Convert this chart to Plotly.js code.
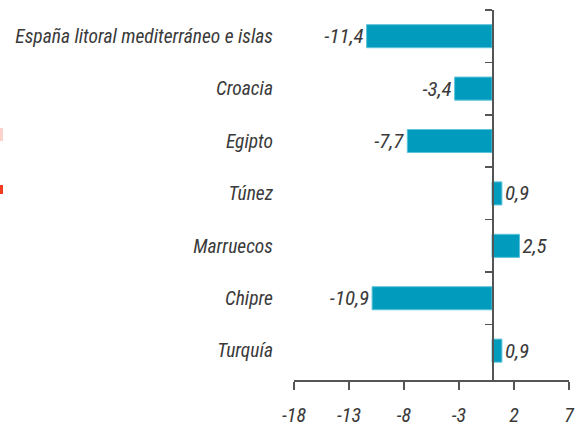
<!DOCTYPE html>
<html>
<head>
<meta charset="utf-8">
<script src="https://cdn.plot.ly/plotly-3.0.1.min.js"></script>
<style>html,body{margin:0;padding:0;background:#fff}#chart{width:585px;height:430px}</style>
</head>
<body>
<div id="chart"></div>
<script>
const categories = ["España litoral mediterráneo e islas", "Croacia", "Egipto", "Túnez", "Marruecos", "Chipre", "Turquía"];
const values = [-11.4, -3.4, -7.7, 0.9, 2.5, -10.9, 0.9];
const xTicks = [-18, -13, -8, -3, 2, 7];

const fmt = v => v.toFixed(1).replace('.', ',');
const fam = "'Liberation Sans Narrow', 'Roboto Condensed', 'DejaVu Sans Condensed', sans-serif";
const catFont = {family: fam, size: 19.5, color: '#3a3a3a', style: 'italic'};
const numFont = {family: fam, size: 21, color: '#3a3a3a', style: 'italic'};
const tickFont = {family: fam, size: 20, color: '#3a3a3a', style: 'italic'};
const W = 585, L = 294, R = 16;
const pw = W - L - R;

const traces = [
  {
    type: 'bar', orientation: 'h', x: values, y: categories,
    marker: {color: '#009bbd', line: {color: '#5cc3da', width: 1}},
    width: 0.44,
    text: values.map(fmt), textposition: 'outside', cliponaxis: false,
    constraintext: 'none',
    textfont: numFont, hoverinfo: 'skip'
  },
  {
    type: 'scatter', mode: 'none', x: categories.map(() => 0), y: categories,
    yaxis: 'y2', showlegend: false, hoverinfo: 'skip'
  }
];

const layout = {
  width: 585, height: 430,
  margin: {l: L, r: R, t: 10, b: 50},
  paper_bgcolor: '#fff', plot_bgcolor: '#fff',
  showlegend: false,
  font: catFont,
  xaxis: {
    range: [-18, 7], tickvals: xTicks, ticktext: xTicks.map(String),
    showgrid: false, zeroline: false,
    showline: true, linecolor: '#555', linewidth: 1.5,
    ticks: 'outside', ticklen: 8, tickcolor: '#555', tickwidth: 1.5,
    ticklabelstandoff: 8,
    tickfont: tickFont, fixedrange: true
  },
  yaxis: {
    type: 'category', range: [6.56, -0.5],
    showgrid: false, zeroline: false, showline: false, ticks: '',
    ticklabelstandoff: 20, tickfont: catFont, fixedrange: true
  },
  yaxis2: {
    type: 'category', overlaying: 'y', matches: 'y', anchor: 'free',
    position: 18 / 25, side: 'left',
    showgrid: false, zeroline: false, showline: true, linecolor: '#555', linewidth: 1.5,
    ticks: 'outside', tickson: 'boundaries', ticklen: 7, tickcolor: '#555', tickwidth: 1.5,
    showticklabels: false, fixedrange: true
  },
  shapes: [
    {type: 'rect', xref: 'paper', yref: 'paper', x0: -L / pw, x1: (-L + 3) / pw, y0: (380 - 141) / 370, y1: (380 - 128) / 370, fillcolor: '#fbd3cc', line: {width: 0}},
    {type: 'rect', xref: 'paper', yref: 'paper', x0: -L / pw, x1: (-L + 3) / pw, y0: (380 - 194) / 370, y1: (380 - 185) / 370, fillcolor: '#f03c1e', line: {width: 0}}
  ]
};

Plotly.newPlot('chart', traces, layout, {displayModeBar: false, staticPlot: true});
</script>
</body>
</html>
